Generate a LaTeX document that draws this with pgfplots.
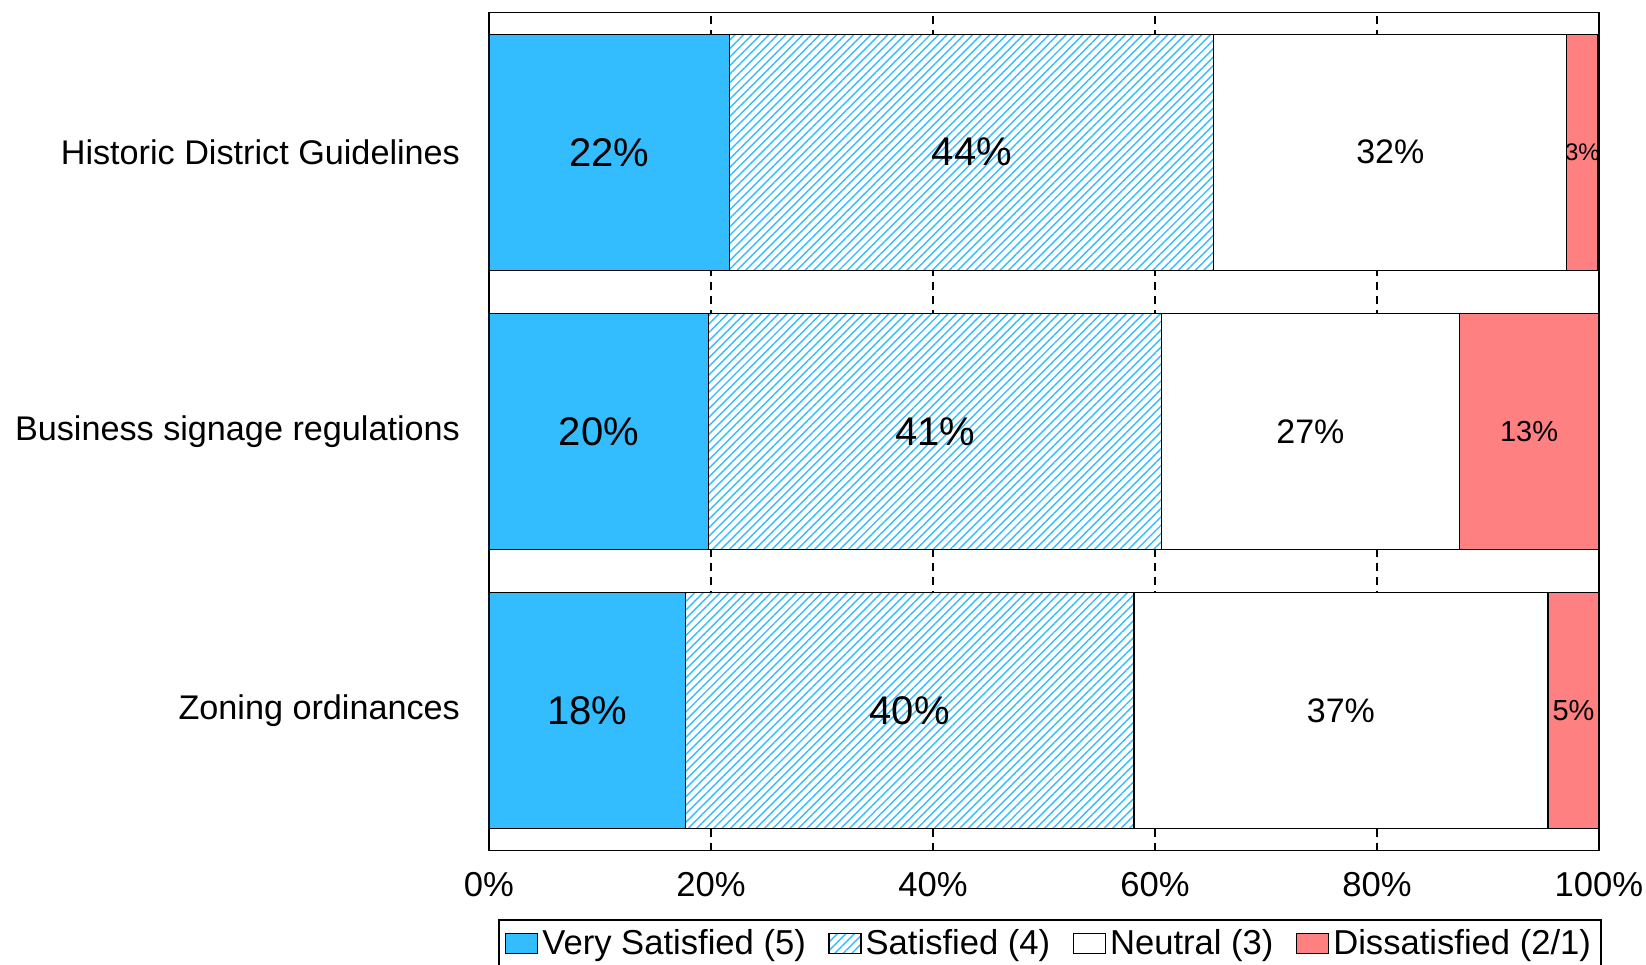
\documentclass[border=0pt]{standalone}
\usepackage{fontspec}
\setmainfont{Liberation Sans}
\usepackage{pgfplots}
\usepackage{pgfplotstable}
\pgfplotsset{compat=1.18}
\usetikzlibrary{patterns.meta}
\definecolor{vsblue}{RGB}{51,189,255}
\definecolor{dsred}{RGB}{255,128,128}

\pgfplotstableread{
y vs s n d
0 17.7 40.4 37.3 4.6
1 19.8 40.8 26.8 12.6
2 21.7 43.6 31.8 2.8
}\datatable

\newcommand{\redsize}{\pgfmathparse{\segval<4?12:14.5}\fontsize{\pgfmathresult}{18}\selectfont}

\pgfplotsset{
  myleg/.style={legend image code/.code={\draw[##1,draw=black,line width=0.6pt] (0pt,-5pt) rectangle (16pt,5pt);}},
}

\begin{document}
\begin{tikzpicture}
\begin{axis}[
  scale only axis,
  width=555pt, height=419pt,
  xbar stacked,
  bar width=0.845,
  xmin=0, xmax=100,
  ymin=-0.5, ymax=2.5,
  xtick={0,20,40,60,80,100},
  ytick={0,1,2},
  yticklabels={Zoning ordinances, Business signage regulations, Historic District Guidelines},
  xticklabel={\pgfmathprintnumber{\tick}\%},
  /pgf/number format/assume math mode=true,
  major tick length=0pt,
  xmajorgrids,
  major grid style={black, line width=0.9pt, dash pattern=on 4pt off 3pt},
  axis line style={black, line width=0.9pt},
  tick label style={font=\fontsize{17.3}{20}\selectfont},
  yticklabel style={xshift=-11pt, font=\fontsize{17.1}{20}\selectfont},
  xticklabel style={yshift=-7.5pt},
  visualization depends on=rawx \as \segval,
  nodes near coords={\pgfmathprintnumber[fixed,precision=0]{\segval}\%},
  every node near coord/.append style={anchor=center, text=black},
  legend columns=4,
  legend style={at={(0.5055,-0.0817)}, anchor=north, draw=black, line width=0.9pt,
    font=\fontsize{17.3}{20}\selectfont, inner xsep=3pt, inner ysep=3pt,
    nodes={inner xsep=2pt},
    /tikz/every even column/.append style={column sep=9.3pt}},
]
\addplot[fill=vsblue, draw=black, line width=0.6pt, myleg,
  every node near coord/.append style={font=\fontsize{20}{24}\selectfont}]
  table[x=vs, y=y] \datatable;
\addlegendentry{Very Satisfied (5)}
\addplot[fill=white, postaction={pattern={Lines[angle=45,distance=3pt,line width=0.7pt]}, pattern color=vsblue}, draw=black, line width=0.6pt, myleg,
  every node near coord/.append style={font=\fontsize{20}{24}\selectfont}]
  table[x=s, y=y] \datatable;
\addlegendentry{Satisfied (4)}
\addplot[fill=white, draw=black, line width=0.6pt, myleg,
  every node near coord/.append style={font=\fontsize{17}{20}\selectfont}]
  table[x=n, y=y] \datatable;
\addlegendentry{Neutral (3)}
\addplot[fill=dsred, draw=black, line width=0.6pt, myleg,
  every node near coord/.append style={font=\redsize}]
  table[x=d, y=y] \datatable;
\addlegendentry{Dissatisfied (2/1)}
\end{axis}
\pgfresetboundingbox
\useasboundingbox (-244.5pt,-57.25pt) rectangle (578.5pt,425.25pt);
\end{tikzpicture}
\end{document}
